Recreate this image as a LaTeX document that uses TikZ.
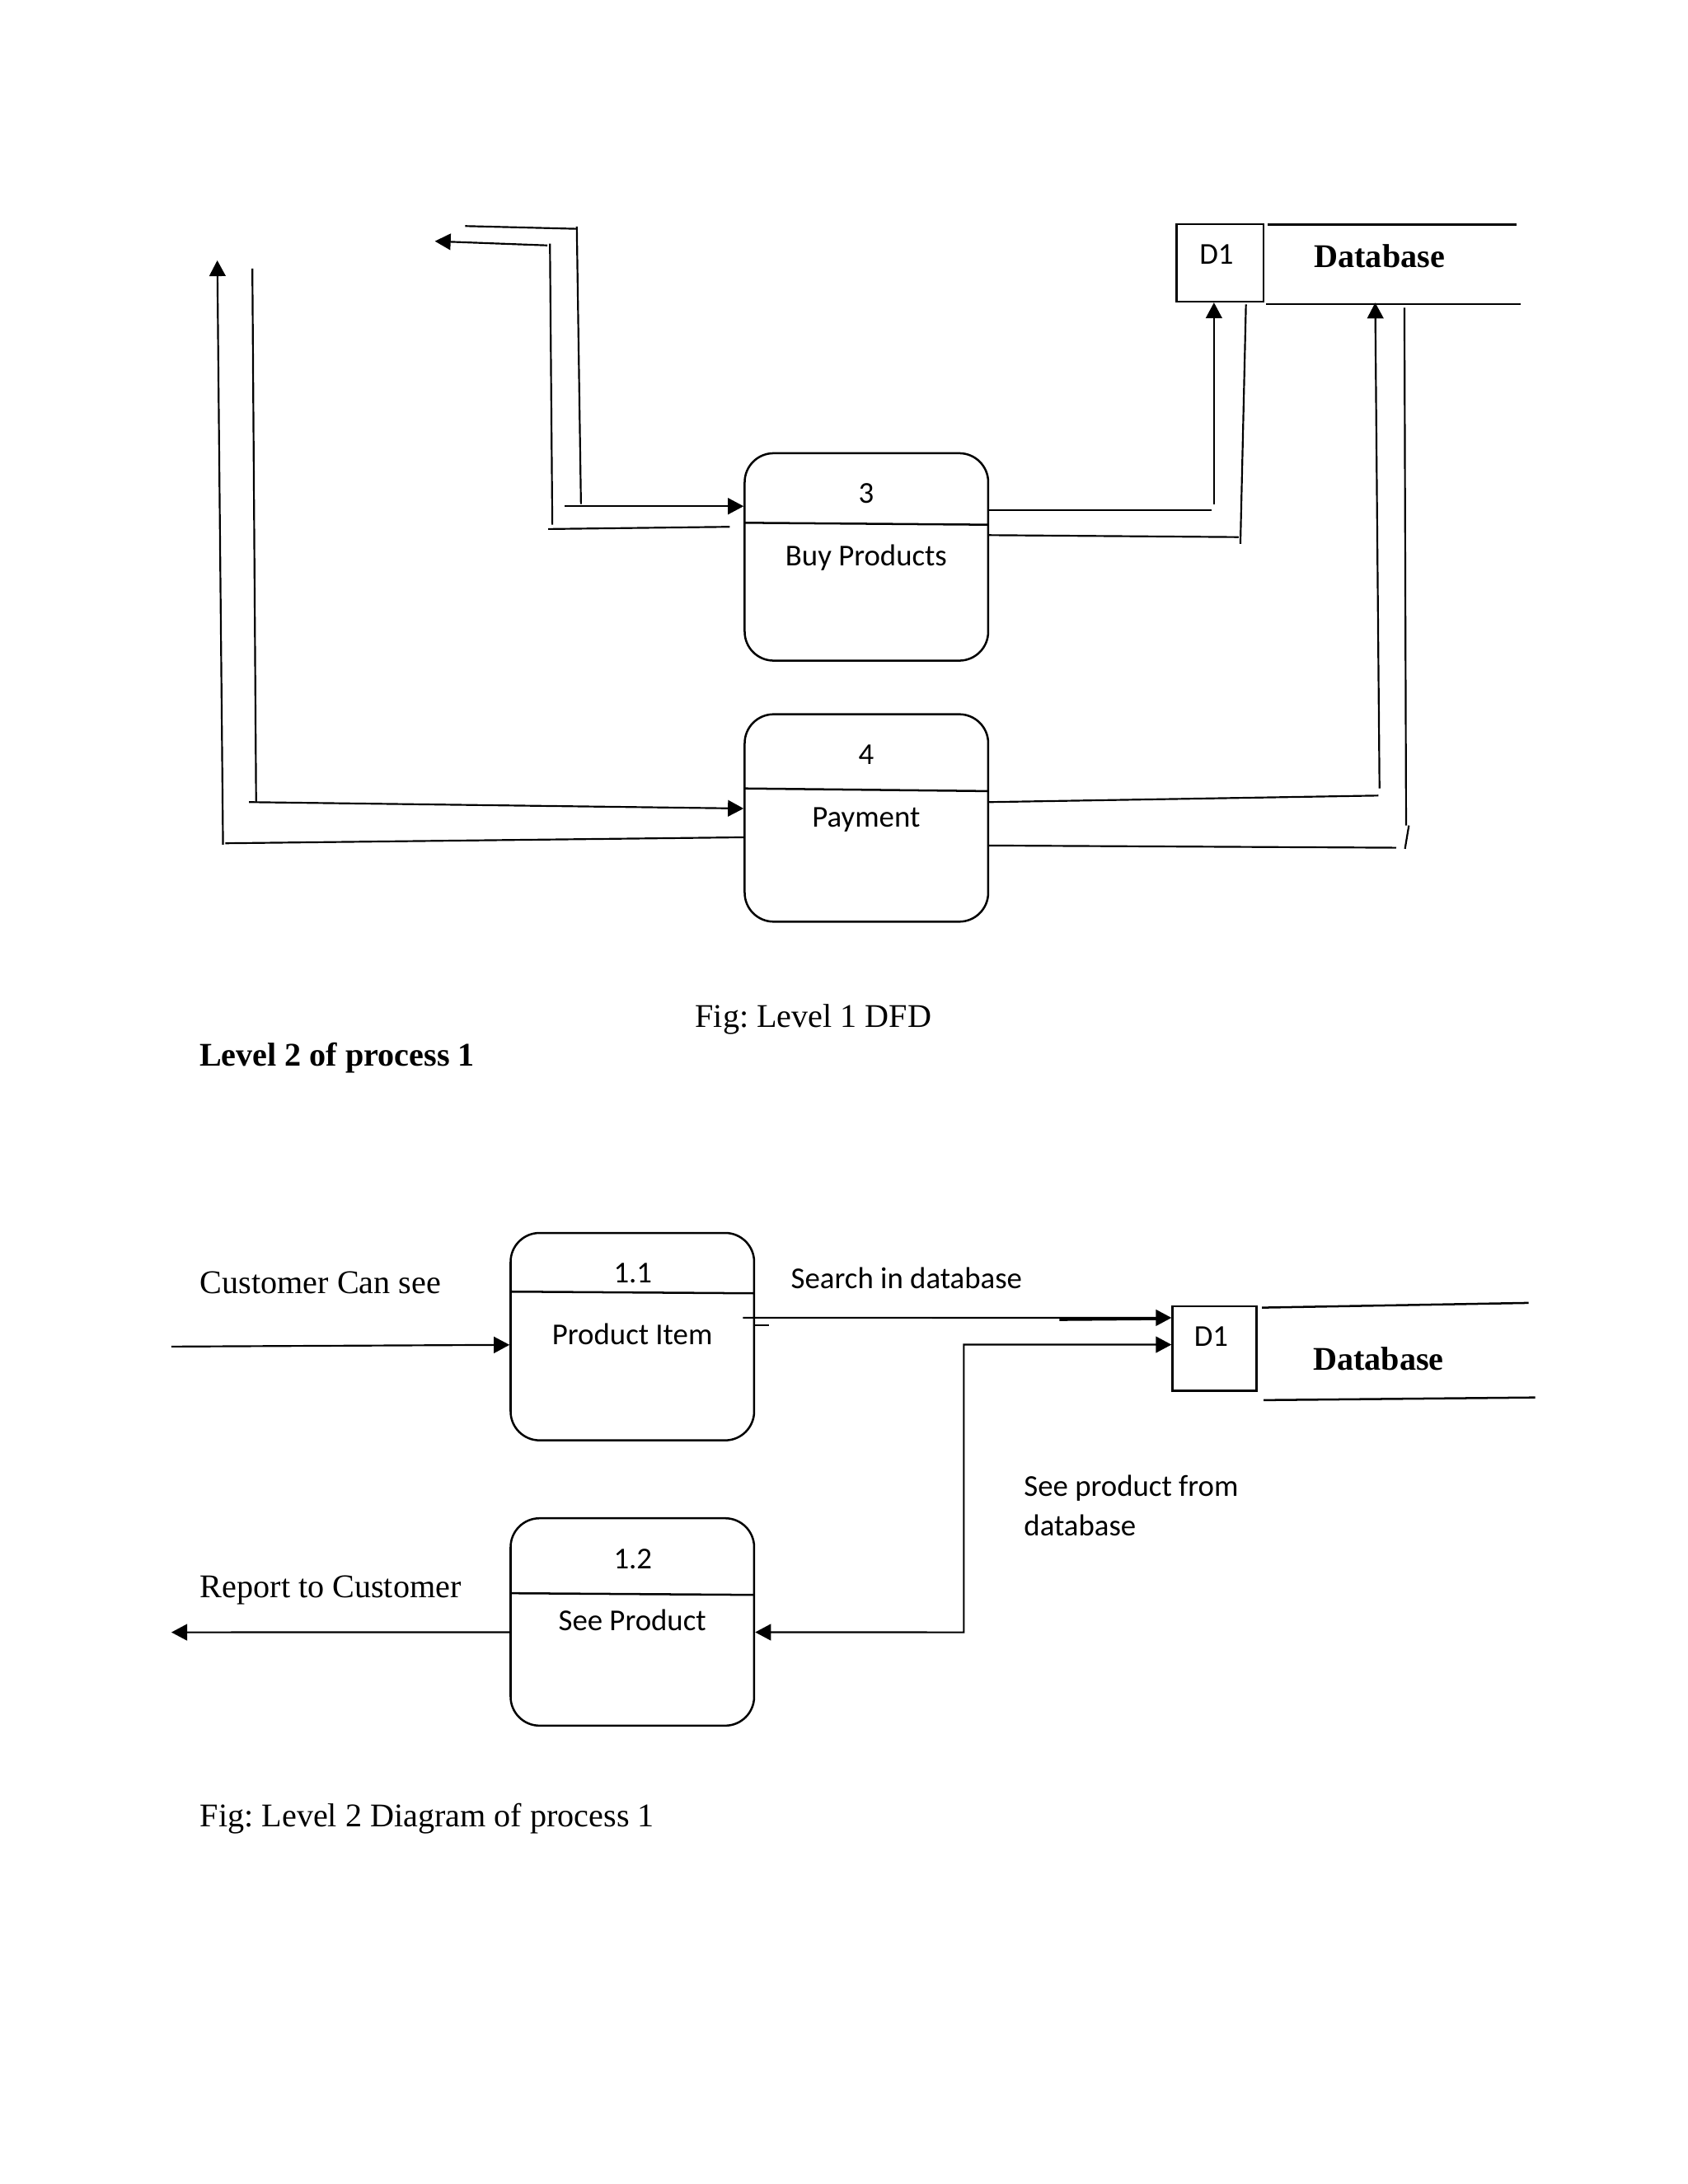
\documentclass[tikz,border=0pt]{standalone}
\usepackage{fontspec}
\setmainfont{Liberation Serif}
\newfontfamily\calibrifont{Carlito}
\usetikzlibrary{arrows.meta}
\frenchspacing
\begin{document}
\begin{tikzpicture}[x=0.5044pt,y=-0.5044pt,
  flow/.style={line width=0.65pt},
  tip/.style={-{Triangle[length=5.7pt,width=5.9pt]}},
  arr/.style={flow,tip},
  proc/.style={draw,line width=0.75pt,rounded corners=10.5pt,minimum width=88.3pt,minimum height=75.2pt,inner sep=0pt},
  store/.style={draw,line width=0.75pt,inner sep=0pt},
  lbl/.style={inner sep=0pt,anchor=base,font=\calibrifont\fontsize{11}{13}\selectfont},
  llbl/.style={lbl,anchor=base west},
  ser/.style={inner sep=0pt,anchor=base west,font=\fontsize{12}{14}\selectfont},
  dbt/.style={inner sep=0pt,anchor=base,font=\bfseries\fontsize{12}{14}\selectfont},
]
\useasboundingbox (0,0) rectangle (1213,1570);

% ---------------- Level 1 ----------------
\node[proc] (p3) at (622.8,400.35) {};
\node[proc] (p4) at (622.8,588.0) {};
\draw[line width=0.75pt] (535.3,375.8) -- (710.3,377.2);
\draw[line width=0.75pt] (535.3,566.8) -- (710.3,568.7);
\node[lbl] (t3) at (622.6,361.8) {3};
\node[lbl] (t3b) at (622.6,406.8) {Buy Products};
\node[lbl] (t4) at (622.6,549.4) {4};
\node[lbl] (t4b) at (622.6,594.4) {Payment};

% data store D1 (level 1)
\node[store,minimum width=31.6pt,minimum height=28.1pt] (d1a) at (876.95,188.9) {};
\node[lbl] (d1at) at (874.4,190) {D1};
\node[dbt] (dba) at (991.6,192) {Database};
\coordinate (dbat1) at (911.4,161.4); \coordinate (dbat2) at (1090,161.4);
\coordinate (dbab1) at (910.2,218.6); \coordinate (dbab2) at (1092.8,218.6);
\draw[line width=0.75pt] (dbat1) -- (dbat2);
\draw[line width=0.75pt] (dbab1) -- (dbab2);

% into process 3 from the top left
\coordinate (i1) at (334.4,162.5);
\coordinate (i2) at (414.6,164.5);
\coordinate (i3) at (414.6,162.9);
\coordinate (i4) at (417.6,362.4);
\coordinate (i5) at (406,363.9);
\draw[flow] (i1) -- (i2);
\draw[flow] (i3) -- (i4);
\draw[arr] (i5) -- (p3.west |- i5);

% out of process 3 to the top left
\coordinate (o1) at (524.5,378.7);
\coordinate (o2) at (394,380.3);
\coordinate (o3) at (397,377.2);
\coordinate (o4) at (395.3,175.2);
\coordinate (o5) at (393.4,176.4);
\coordinate (o6) at (312.6,173.4);
\draw[flow] (o1) -- (o2);
\draw[flow] (o3) -- (o4);
\draw[arr] (o5) -- (o6);

% process 3 -> D1
\coordinate (r1) at (870.9,366.7);
\coordinate (r2) at (872.6,362.4);
\draw[flow] (p3.east |- r1) -- (r1);
\draw[arr] (r2) -- (d1a.south -| r2);

% D1 -> process 3
\coordinate (s1) at (895.6,218.8);
\coordinate (s2) at (891.6,391);
\coordinate (s3) at (890.4,386.1);
\draw[flow] (s1) -- (s2);
\draw[flow] ([yshift=7.9pt]p3.east) -- (s3);

% left flows of process 4
\coordinate (u1) at (181.4,193.1);
\coordinate (u2) at (184.1,576.6);
\coordinate (u3) at (179,576.6);
\draw[flow] (u1) -- (u2);
\draw[arr] (u3) -- ([yshift=3.43pt]p4.west);
\coordinate (v1) at (162,606.2);
\coordinate (v2) at (160.3,607.2);
\coordinate (v3) at (156.2,187.2);
\draw[flow] ([yshift=-7.01pt]p4.west) -- (v1);
\draw[arr] (v2) -- (v3);

% right flows of process 4
\coordinate (q1) at (990.8,571.9);
\coordinate (q2) at (991.6,566.8);
\coordinate (q3) at (988.5,217.6);
\draw[flow] ([yshift=5.75pt]p4.east) -- (q1);
\draw[arr] (q2) -- (q3);
\coordinate (w1) at (1003.6,609.4);
\coordinate (w2) at (1009.5,221.2);
\coordinate (w3) at (1010.7,593.4);
\coordinate (w4) at (1012.7,593.4);
\coordinate (w5) at (1009.9,610.2);
\draw[flow] ([yshift=-9.99pt]p4.east) -- (w1);
\draw[flow] (w2) -- (w3);
\draw[flow] (w4) -- (w5);

\node[ser] (fig1) at (499.4,738.6) {Fig: Level 1 DFD};
\node[ser,font=\bfseries\fontsize{12}{14}\selectfont] (lev2) at (143,766.2) {Level 2 of process 1};

% ---------------- Level 2 ----------------
\node[proc] (p11) at (454.55,960.85) {};
\node[proc] (p12) at (454.55,1165.95) {};
\draw[line width=0.75pt] (366.6,928.5) -- (542.5,929.7);
\draw[line width=0.75pt] (366.6,1145.3) -- (542.5,1146.5);
\node[lbl] (t11) at (454.9,922.2) {1.1};
\node[lbl] (t11b) at (454.5,966.6) {Product Item};
\node[lbl] (t12) at (454.9,1127.6) {1.2};
\node[lbl] (t12b) at (454.5,1172.4) {See Product};

\node[store,minimum width=30.4pt,minimum height=30.6pt] (d2) at (872.95,969.3) {};
\node[lbl] (d2t) at (870.6,967.6) {D1};
\node[dbt] (db2) at (990.8,985) {Database};
\coordinate (db2t1) at (907.1,940); \coordinate (db2t2) at (1098.8,936.6);
\coordinate (db2b1) at (908.3,1006.5); \coordinate (db2b2) at (1103.5,1004.6);
\draw[line width=0.75pt] (db2t1) -- (db2t2);
\draw[line width=0.75pt] (db2b1) -- (db2b2);

\node[ser] (cust) at (143.5,929.7) {Customer Can see};
\node[ser] (rep) at (143.5,1148.3) {Report to Customer};
\node[ser] (fig2) at (143.5,1313.2) {Fig: Level 2 Diagram of process 1};
\node[llbl] (srch) at (568.2,926.1) {Search in database};
\node[llbl] (see1) at (735.7,1075.3) {See product from};
\node[llbl] (see2) at (735.7,1103.9) {database};

% customer -> 1.1
\coordinate (c0) at (123.2,968);
\draw[arr] (c0) -- ([yshift=-2.98pt]p11.west);

% 1.1 -> D1
\draw[arr] ([xshift=-4.44pt,yshift=6.86pt]p11.east) -- ([yshift=11.1pt]d2.west);
\coordinate (x1) at (761.5,948.5);
\coordinate (x2) at (833,947.9);
\draw[line width=1.1pt] (x1) -- (x2);
\draw[flow] ([yshift=4.09pt]p11.east) -- ++(5pt,0);

% D1 <-> 1.2
\coordinate (k1) at (692.8,966.6);
\coordinate (k2) at (692.8,1173.4);
\draw[flow,{Triangle[length=5.7pt,width=5.9pt]}-{Triangle[length=5.7pt,width=5.9pt]}]
  ([yshift=1.36pt]d2.west) -- (k1) -- (k2) -- ([yshift=-3.73pt]p12.east);

% 1.2 -> customer
\coordinate (rc) at (123.2,1173.4);
\draw[arr] ([yshift=-3.73pt]p12.west) -- (rc);
\end{tikzpicture}
\end{document}
